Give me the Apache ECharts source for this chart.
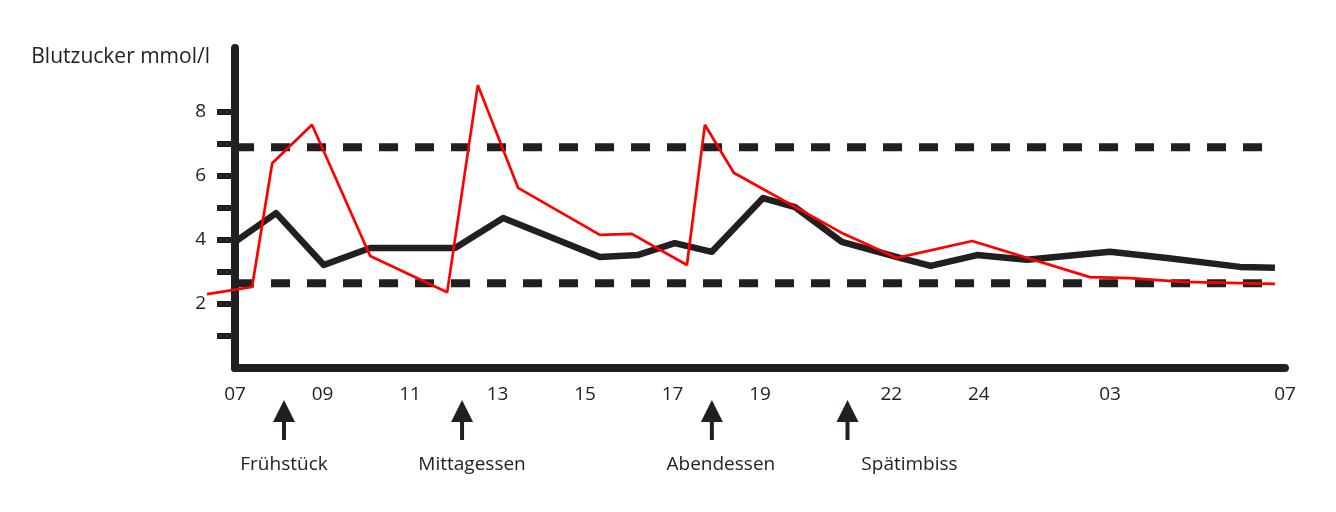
<!DOCTYPE html>
<html style="height: 100%">
<head>
    <meta charset="utf-8">
</head>
<body style="height: 100%; margin: 0; background: #fff">
<div id="container" style="width: 1336px; height: 512px"></div>
<script src="https://cdn.jsdelivr.net/npm/echarts@6/dist/echarts.min.js"></script>
<script>
    // Blutzuckerverlauf über 24 Stunden (Stunde ab 07 Uhr, >24 = nächster Tag)
    var blackHours = [7.0, 7.94, 9.03, 10.09, 12.03, 13.13, 15.34, 16.2, 17.05, 17.9, 19.07, 19.8, 20.87, 22.2, 22.9, 23.96, 25.1, 27.0, 28.3, 29.97, 30.77];
    var blackValues = [3.94, 4.84, 3.22, 3.75, 3.75, 4.69, 3.47, 3.53, 3.9, 3.63, 5.31, 5.03, 3.94, 3.44, 3.19, 3.53, 3.38, 3.63, 3.44, 3.16, 3.13];

    var redHours = [6.36, 7.39, 7.85, 8.76, 10.09, 11.85, 12.55, 13.47, 15.34, 16.07, 17.33, 17.74, 18.4, 20.9, 22.13, 23.85, 26.54, 27.46, 28.67, 30.77];
    var redValues = [2.31, 2.53, 6.4, 7.6, 3.5, 2.37, 8.84, 5.63, 4.16, 4.19, 3.22, 7.6, 6.1, 4.2, 3.44, 3.97, 2.84, 2.81, 2.69, 2.63];

    var limitUpper = 6.9;
    var limitLower = 2.65;
    var limitRange = [7, 30.75];

    var mealHours = [8.12, 12.19, 17.9, 21.0];
    var mealNames = ['Frühstück', 'Mittagessen', 'Abendessen', 'Spätimbiss'];

    var xTicks = [7, 9, 11, 13, 15, 17, 19, 22, 24, 27, 31];
    var yLabels = [2, 4, 6, 8];
    var yTicks = [1, 2, 3, 4, 5, 6, 7, 8];

    // Layout only: horizontale Verschiebung der Beschriftung unter den Pfeilen
    var mealLabelDx = [0, 10, 9, 62];

    function zip(xs, ys) {
        return xs.map(function (x, i) { return [x, ys[i]]; });
    }

    var ink = '#231f20';
    var textColor = '#222';
    var font = 'Open Sans';
    var arrowPath = 'path://M11,0 L22,22 L13,22 L13,40 L9,40 L9,22 L0,22 Z';

    var W = 1336, gridLeft = 235, gridRight = 51, gridTop = 48, gridBottom = 144;
    var xMin = 7, xMax = 31;
    // die rote Kurve beginnt links vor der Achse: eigenes, unsichtbares Raster mit gleicher Skala
    var pxPerHour = (W - gridLeft - gridRight) / (xMax - xMin);
    var redMin = redHours[0];
    var redGridLeft = gridLeft - (xMin - redMin) * pxPerHour;

    var dom = document.getElementById('container');
    var myChart = echarts.init(dom);

    var option = {
        animation: false,
        grid: [
            {left: gridLeft, right: gridRight, top: gridTop, bottom: gridBottom},
            {left: redGridLeft, right: gridRight, top: gridTop, bottom: gridBottom}
        ],
        xAxis: [
            {
                type: 'value',
                min: xMin,
                max: xMax,
                axisLine: {lineStyle: {color: ink, width: 8}},
                axisTick: {show: false},
                splitLine: {show: false},
                axisLabel: {
                    customValues: xTicks,
                    margin: 17,
                    color: textColor,
                    fontFamily: font,
                    fontSize: 19,
                    formatter: function (v) {
                        var h = v > 24 ? v - 24 : v;
                        return (h < 10 ? '0' : '') + h;
                    }
                }
            },
            {gridIndex: 1, type: 'value', min: redMin, max: xMax, show: false}
        ],
        yAxis: [
            {
                type: 'value',
                min: 0,
                max: 10,
                name: 'Blutzucker mmol/l',
                nameLocation: 'end',
                nameGap: -9,
                nameTextStyle: {
                    align: 'right',
                    verticalAlign: 'middle',
                    padding: [0, 25, 0, 0],
                    color: textColor,
                    fontFamily: font,
                    fontSize: 21
                },
                axisLine: {show: true, lineStyle: {color: ink, width: 8}},
                axisTick: {show: true, customValues: yTicks, length: 18, lineStyle: {color: ink, width: 6}},
                splitLine: {show: false},
                axisLabel: {customValues: yLabels, margin: 29, color: textColor, fontFamily: font, fontSize: 19}
            },
            {gridIndex: 1, type: 'value', min: 0, max: 10, show: false}
        ],
        series: [
            {
                name: 'Grenze oben',
                type: 'line',
                showSymbol: false,
                silent: true,
                lineStyle: {color: ink, width: 8, type: [19, 17]},
                data: zip(limitRange, [limitUpper, limitUpper])
            },
            {
                name: 'Grenze unten',
                type: 'line',
                showSymbol: false,
                silent: true,
                lineStyle: {color: ink, width: 8, type: [19, 17]},
                data: zip(limitRange, [limitLower, limitLower])
            },
            {
                name: 'Verlauf schwarz',
                type: 'line',
                showSymbol: false,
                lineStyle: {color: ink, width: 6.5, join: 'round'},
                data: zip(blackHours, blackValues)
            },
            {
                name: 'Verlauf rot',
                type: 'line',
                xAxisIndex: 1,
                yAxisIndex: 1,
                z: 5,
                showSymbol: false,
                lineStyle: {color: '#ff0000', width: 2.7},
                data: zip(redHours, redValues)
            },
            {
                name: 'Mahlzeiten',
                type: 'scatter',
                clip: false,
                silent: true,
                symbol: arrowPath,
                symbolSize: [22, 40],
                itemStyle: {color: ink, opacity: 1},
                data: mealHours.map(function (h, i) {
                    return {
                        value: [h, -1.625],
                        label: {offset: [mealLabelDx[i], 0]}
                    };
                }),
                label: {
                    show: true,
                    position: 'bottom',
                    distance: 15,
                    color: textColor,
                    fontFamily: font,
                    fontSize: 19,
                    formatter: function (p) { return mealNames[p.dataIndex]; }
                }
            }
        ]
    };

    myChart.setOption(option);
</script>
</body>
</html>
